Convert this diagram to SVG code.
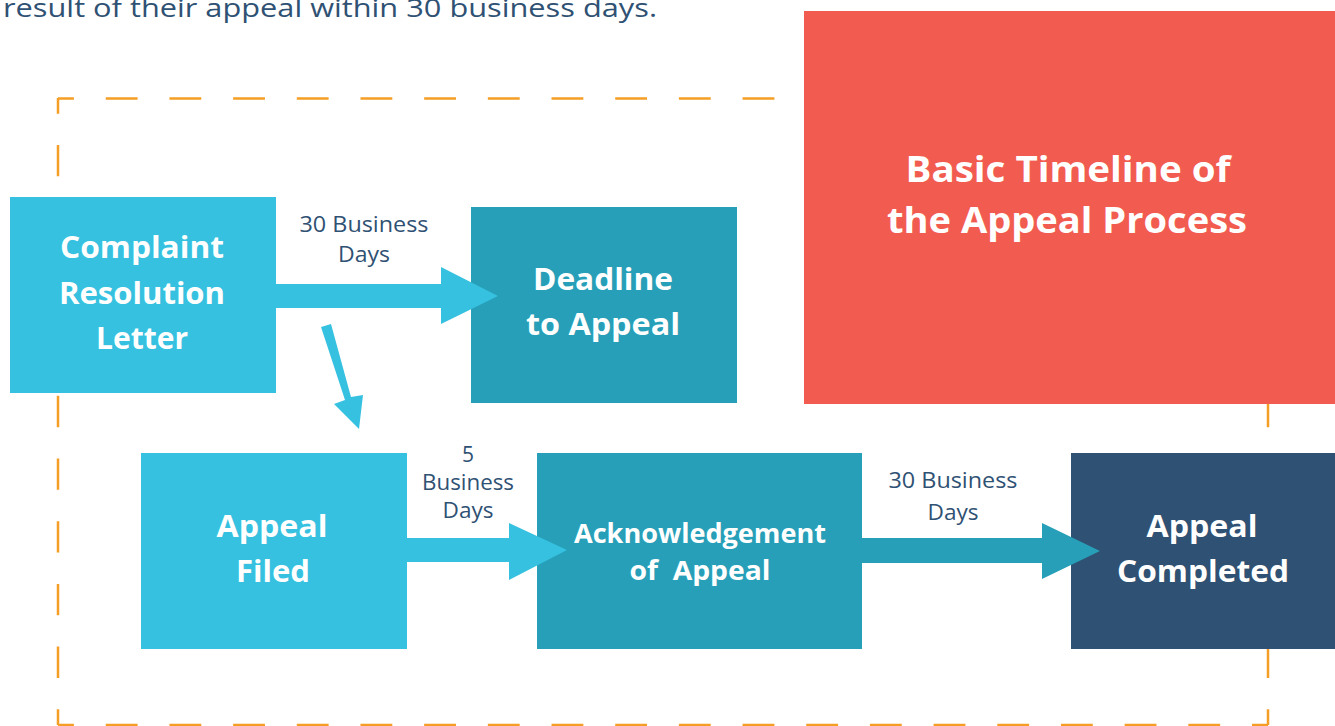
<svg xmlns="http://www.w3.org/2000/svg" width="1335" height="726" viewBox="0 0 1335 726">
<style>
.t{font-family:"Open Sans",Lato,"Liberation Sans",sans-serif;fill:#fff;font-weight:700;text-anchor:middle}
.lbl{font-family:"Open Sans",Lato,"Liberation Sans",sans-serif;fill:#2F5173;font-size:21px;text-anchor:middle}
.dash{stroke:#F59E25;stroke-width:2.5;fill:none}
.lb{fill:#36C1E0}.tl{fill:#279FB8}
</style>
<rect width="1335" height="726" fill="#fff"/>
<text x="3" y="17" font-family="'Open Sans',Lato,'Liberation Sans',sans-serif" font-size="26" fill="#2F5173" textLength="654" lengthAdjust="spacingAndGlyphs">result of their appeal within 30 business days.</text>
<g id="frame">
<line class="dash" x1="58" y1="98.5" x2="1268" y2="98.5" stroke-dasharray="31.84 31.84" stroke-dashoffset="15.92"/>
<line class="dash" x1="58" y1="725" x2="1268" y2="725" stroke-dasharray="31.84 31.84" stroke-dashoffset="15.92"/>
<line class="dash" x1="58" y1="98" x2="58" y2="725" stroke-dasharray="31.35 31.35" stroke-dashoffset="15.68"/>
<line class="dash" x1="1268" y1="98" x2="1268" y2="725" stroke-dasharray="31.35 31.35" stroke-dashoffset="15.68"/>
</g>
<g id="title">
<rect x="804" y="11" width="531" height="393" fill="#F25C50"/>
<text class="t" x="1068" y="182" font-size="35" textLength="325" lengthAdjust="spacingAndGlyphs">Basic Timeline of</text>
<text class="t" x="1067" y="233" font-size="35" textLength="360" lengthAdjust="spacingAndGlyphs">the Appeal Process</text>
</g>
<g id="complaint">
<rect class="lb" x="10" y="197" width="266" height="196"/>
<text class="t" x="142" y="258" font-size="31" textLength="164" lengthAdjust="spacingAndGlyphs">Complaint</text>
<text class="t" x="142" y="304" font-size="31" textLength="166" lengthAdjust="spacingAndGlyphs">Resolution</text>
<text class="t" x="142" y="349" font-size="31" textLength="92" lengthAdjust="spacingAndGlyphs">Letter</text>
</g>
<g id="deadline">
<rect class="tl" x="471" y="207" width="266" height="196"/>
<text class="t" x="603" y="290" font-size="31" textLength="140" lengthAdjust="spacingAndGlyphs">Deadline</text>
<text class="t" x="603" y="335" font-size="31" textLength="154" lengthAdjust="spacingAndGlyphs">to Appeal</text>
</g>
<g id="filed">
<rect class="lb" x="141" y="453" width="266" height="196"/>
<text class="t" x="272" y="537" font-size="31" textLength="111" lengthAdjust="spacingAndGlyphs">Appeal</text>
<text class="t" x="273" y="582" font-size="31" textLength="74" lengthAdjust="spacingAndGlyphs">Filed</text>
</g>
<g id="ack">
<rect class="tl" x="537" y="453" width="325" height="196"/>
<text class="t" x="700" y="543" font-size="26" textLength="252" lengthAdjust="spacingAndGlyphs">Acknowledgement</text>
<text class="t" x="700" y="580" font-size="26" textLength="141" lengthAdjust="spacingAndGlyphs" xml:space="preserve">of  Appeal</text>
</g>
<g id="completed">
<rect x="1071" y="453" width="264" height="196" fill="#2F5173"/>
<text class="t" x="1202" y="537" font-size="31" textLength="111" lengthAdjust="spacingAndGlyphs">Appeal</text>
<text class="t" x="1203" y="582" font-size="31" textLength="172" lengthAdjust="spacingAndGlyphs">Completed</text>
</g>
<g id="connectors">
<polygon class="lb" points="276,284 441,284 441,267 498,296 441,324 441,308 276,308"/>
<polygon class="lb" points="321,327 331,324 351,397 363,395 359,429 334,404 345,400"/>
<polygon class="lb" points="407,538 509,538 509,523 567,550 509,580 509,562 407,562"/>
<polygon class="tl" points="862,538 1042,538 1042,523 1100,551 1042,579 1042,563 862,563"/>
<text class="lbl" x="364" y="232" textLength="129" lengthAdjust="spacingAndGlyphs">30 Business</text>
<text class="lbl" x="364" y="262" textLength="52" lengthAdjust="spacingAndGlyphs">Days</text>
<text class="lbl" x="468" y="462">5</text>
<text class="lbl" x="468" y="490" textLength="92" lengthAdjust="spacingAndGlyphs">Business</text>
<text class="lbl" x="468" y="518" textLength="51" lengthAdjust="spacingAndGlyphs">Days</text>
<text class="lbl" x="953" y="488" textLength="129" lengthAdjust="spacingAndGlyphs">30 Business</text>
<text class="lbl" x="953" y="520" textLength="51" lengthAdjust="spacingAndGlyphs">Days</text>
</g>
</svg>
